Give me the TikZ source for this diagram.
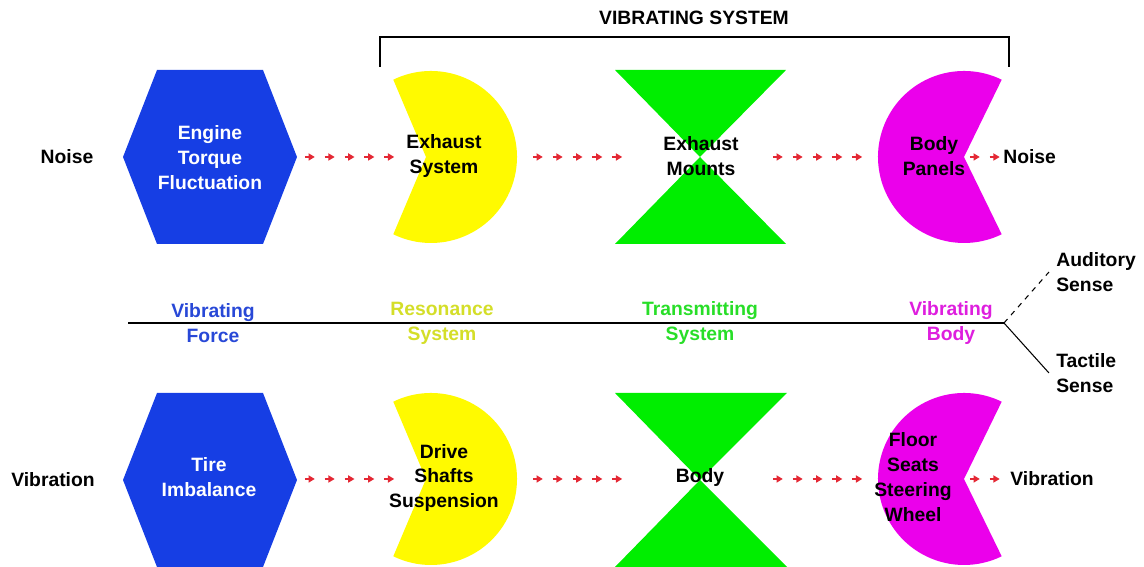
\documentclass[tikz,border=0pt]{standalone}
\usepackage{fontspec}
\setmainfont{Liberation Sans}
\usetikzlibrary{arrows.meta,decorations.markings,positioning}
\definecolor{hexblue}{RGB}{22,62,228}
\definecolor{resyellow}{RGB}{255,250,0}
\definecolor{trgreen}{RGB}{0,238,0}
\definecolor{bodymag}{RGB}{235,0,235}
\definecolor{flowred}{RGB}{228,40,52}
\definecolor{txtblue}{RGB}{40,72,215}
\definecolor{txtyellow}{RGB}{212,222,40}
\definecolor{txtgreen}{RGB}{40,222,40}
\definecolor{txtmag}{RGB}{222,30,222}
\tikzset{
  lbl/.style={font=\fontsize{11}{14.2}\selectfont\bfseries, align=center, inner sep=0pt},
  flowdash/.style={flowred, line width=1.2pt, -{Triangle[length=3.6pt,width=4pt]}},
  flow/.style={decorate, decoration={markings,
      mark=between positions 5.6pt and 1 step 11.3pt with {\draw[flowdash] (-5.67pt,0) -- (0,0);}}}
}

\begin{document}
\begin{tikzpicture}[x=0.02cm, y=0.02cm]
  \useasboundingbox (0,0) rectangle (1144,567);

  % top row: noise path
  \fill[hexblue] (123,410) -- (157,497) -- (263,497) -- (297,410) -- (263,323) -- (157,323) -- cycle;
  \fill[resyellow] (431,410) ++(116:86) arc[start angle=116, end angle=-116, radius=86] -- (426,410) -- cycle;
  \fill[trgreen] (615,497) -- (786,497) -- (700,410) -- cycle;
  \fill[trgreen] (615,323) -- (786,323) -- (700,410) -- cycle;
  \fill[bodymag] (964,410) ++(64:86) arc[start angle=64, end angle=296, radius=86] -- (964,410) -- cycle;

  \node[lbl] (noiseL) at (67,410) {Noise};
  \node[lbl, white] (eng) at (210,409) {Engine\\Torque\\Fluctuation};
  \node[lbl] (exsys) at (444,411) {Exhaust\\System};
  \node[lbl] (exmnt) at (701,411) {Exhaust\\Mounts};
  \node[lbl] (panels) at (934,411) {Body\\Panels};
  \node[lbl, anchor=west] (noiseR) at (1003,410) {Noise};

  \coordinate (eng-out) at (305,410);
  \coordinate (exsys-in) at (397,410);
  \coordinate (exsys-out) at (533,410);
  \coordinate (exmnt-in) at (625,410);
  \coordinate (exmnt-out) at (773,410);
  \coordinate (panels-in) at (865,410);
  \coordinate (panels-out) at (970,410);
  \path[flow] (eng-out) -- (exsys-in);
  \path[flow] (exsys-out) -- (exmnt-in);
  \path[flow] (exmnt-out) -- (panels-in);
  \path[flow] (panels-out) -- (noiseR.west);

  % bracket
  \node[lbl] (vsys) at (694,549) {VIBRATING SYSTEM};
  \coordinate (brL) at (380,500);
  \coordinate (brR) at (1009,500);
  \draw[line width=0.8pt] (brL) -- ++(0,30) -| (brR);

  % middle axis
  \coordinate (axisL) at (128,244);
  \coordinate (fork) at (1004,244);
  \draw[line width=0.8pt] (axisL) -- (fork);
  \node[lbl, txtblue] (vforce) at (213,244) {Vibrating\\Force};
  \node[lbl, txtyellow] (rsys) at (442,244) {Resonance\\System};
  \node[lbl, txtgreen] (tsys) at (700,244) {Transmitting\\System};
  \node[lbl, txtmag] (vbody) at (951,244) {Vibrating\\Body};
  \node[lbl, anchor=west, align=left] (aud) at (1056,295) {Auditory\\Sense};
  \node[lbl, anchor=west, align=left] (tac) at (1056,194) {Tactile\\Sense};
  \draw[dashed, line width=0.6pt] (fork) -- ([xshift=-4]aud.west);
  \draw[line width=0.6pt] (fork) -- ([xshift=-4]tac.west);

  % bottom row: vibration path
  \fill[hexblue] (123,87) -- (157,174) -- (263,174) -- (297,87) -- (263,0) -- (157,0) -- cycle;
  \fill[resyellow] (431,88) ++(116:86) arc[start angle=116, end angle=-116, radius=86] -- (426,88) -- cycle;
  \fill[trgreen] (615,174) -- (787,174) -- (700,87) -- cycle;
  \fill[trgreen] (615,0) -- (787,0) -- (700,87) -- cycle;
  \fill[bodymag] (964,88) ++(64:86) arc[start angle=64, end angle=296, radius=86] -- (964,88) -- cycle;

  \node[lbl] (vibL) at (53,87) {Vibration};
  \node[lbl, white] (tire) at (209,90) {Tire\\Imbalance};
  \node[lbl] (drive) at (444,89) {Drive\\Shafts\\Suspension};
  \node[lbl] (body) at (700,89) {Body};
  \node[lbl] (floor) at (913,90) {Floor\\Seats\\Steering\\Wheel};
  \node[lbl, anchor=west] (vibR) at (1010,88) {Vibration};

  \coordinate (tire-out) at (305,88);
  \coordinate (drive-in) at (397,88);
  \coordinate (drive-out) at (533,88);
  \coordinate (body-in) at (625,88);
  \coordinate (body-out) at (773,88);
  \coordinate (floor-in) at (865,88);
  \coordinate (floor-out) at (970,88);
  \coordinate (vib-in) at (1002,88);
  \path[flow] (tire-out) -- (drive-in);
  \path[flow] (drive-out) -- (body-in);
  \path[flow] (body-out) -- (floor-in);
  \path[flow] (floor-out) -- (vib-in);
\end{tikzpicture}
\end{document}
